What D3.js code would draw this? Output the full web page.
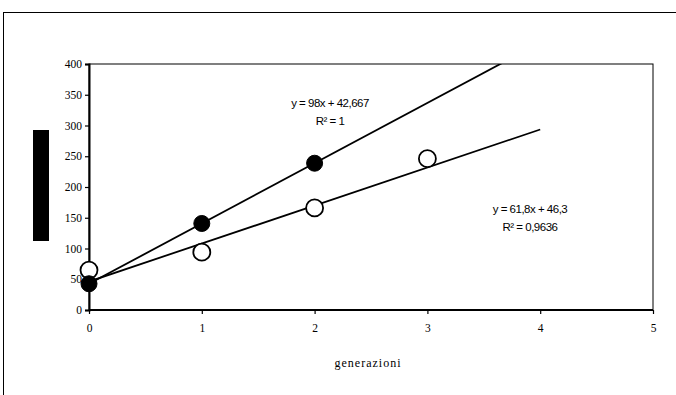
<!DOCTYPE html>
<html>
<head>
<meta charset="utf-8">
<script src="https://cdn.jsdelivr.net/npm/d3@7"></script>
<style>
  body { margin: 0; background: #fff; }
  svg { display: block; }
</style>
</head>
<body>
<div id="chart"></div>
<script>
// dati
const generazioni = [0, 1, 2];
const serieA = [42.667, 140.667, 238.667];     // cerchi pieni
const generazioniB = [0, 1, 2, 3];
const serieB = [65, 94, 166, 246];             // cerchi vuoti
const xTicks = [0, 1, 2, 3, 4, 5];
const yTicks = [0, 50, 100, 150, 200, 250, 300, 350, 400];
const trendA = { slope: 98, intercept: 42.667, from: 0, to: 5 };
const trendB = { slope: 61.8, intercept: 46.3, from: 0, to: 4 };
const eqA = ["y = 98x + 42,667", "R² = 1"];
const eqB = ["y = 61,8x + 46,3", "R² = 0,9636"];

const w = 676, h = 395;
const m = { left: 89, right: 23, top: 64, bottom: 85 };

const svg = d3.select("#chart").append("svg")
    .attr("width", w)
    .attr("height", h);

svg.append("rect").attr("width", w).attr("height", h).attr("fill", "#fff");

// bordo esterno
svg.append("rect")
    .attr("x", 3.5).attr("y", 12.5)
    .attr("width", 700).attr("height", 420)
    .attr("fill", "none").attr("stroke", "#000").attr("stroke-width", 1);

const x = d3.scaleLinear().domain([0, 5]).range([m.left, w - m.right]);
const y = d3.scaleLinear().domain([0, 400]).range([h - m.bottom, m.top]);

// cornice dell'area del grafico
svg.append("rect")
    .attr("x", x(0)).attr("y", y(400))
    .attr("width", x(5) - x(0)).attr("height", y(0) - y(400))
    .attr("fill", "none").attr("stroke", "#000").attr("stroke-width", 1);

svg.append("clipPath").attr("id", "plot")
    .append("rect")
    .attr("x", x(0)).attr("y", y(400))
    .attr("width", x(5) - x(0)).attr("height", y(0) - y(400));

// assi
const yAxis = svg.append("g")
    .attr("transform", "translate(" + x(0) + ",0)")
    .call(d3.axisLeft(y).tickValues(yTicks).tickSize(4).tickPadding(3).tickFormat(d3.format("d")));
const xAxis = svg.append("g")
    .attr("transform", "translate(0," + y(0) + ")")
    .call(d3.axisBottom(x).tickValues(xTicks).tickSize(4).tickPadding(10).tickFormat(d3.format("d")));

[yAxis, xAxis].forEach(g => {
    g.select(".domain").attr("stroke-width", 2);
    g.selectAll("line").attr("stroke-width", 1.2);
    g.selectAll("text")
        .attr("font-family", "Liberation Serif, Times New Roman, serif")
        .attr("font-size", 11.5)
        .attr("fill", "#000");
});
xAxis.select(".domain").attr("d", "M" + x(0) + ",0H" + x(5));

// titolo asse y (coperto da un blocco nero)
svg.append("rect")
    .attr("x", 33).attr("y", 130)
    .attr("width", 16).attr("height", 111)
    .attr("fill", "#000");

svg.append("text")
    .attr("x", (x(0) + x(5)) / 2 - 3)
    .attr("y", 367)
    .attr("text-anchor", "middle")
    .attr("font-family", "Liberation Serif, Times New Roman, serif")
    .attr("font-size", 12)
    .attr("letter-spacing", 1)
    .text("generazioni");

// linee di tendenza
const plot = svg.append("g").attr("clip-path", "url(#plot)");
[trendA, trendB].forEach(t => {
    plot.append("line")
        .attr("x1", x(t.from)).attr("y1", y(t.intercept + t.slope * t.from))
        .attr("x2", x(t.to)).attr("y2", y(t.intercept + t.slope * t.to))
        .attr("stroke", "#000").attr("stroke-width", 1.8);
});

// punti
svg.append("g").selectAll("circle")
    .data(generazioniB.map((g, i) => [g, serieB[i]]))
    .join("circle")
    .attr("cx", d => x(d[0])).attr("cy", d => y(d[1]))
    .attr("r", 8.5)
    .attr("fill", "#fff").attr("stroke", "#000").attr("stroke-width", 1.8);

svg.append("g").selectAll("circle")
    .data(generazioni.map((g, i) => [g, serieA[i]]))
    .join("circle")
    .attr("cx", d => x(d[0])).attr("cy", d => y(d[1]))
    .attr("r", 8)
    .attr("fill", "#000").attr("stroke", "#000").attr("stroke-width", 1);

// equazioni
function equazione(lines, cx, cy) {
    const t = svg.append("text")
        .attr("text-anchor", "middle")
        .attr("font-family", "Liberation Sans, Arial, sans-serif")
        .attr("font-size", 11.5)
        .attr("letter-spacing", -0.5);
    lines.forEach((l, i) => {
        t.append("tspan").attr("x", cx).attr("y", cy + i * 18).text(l);
    });
}
equazione(eqA, 330, 107);
equazione(eqB, 530, 213);
</script>
</body>
</html>
